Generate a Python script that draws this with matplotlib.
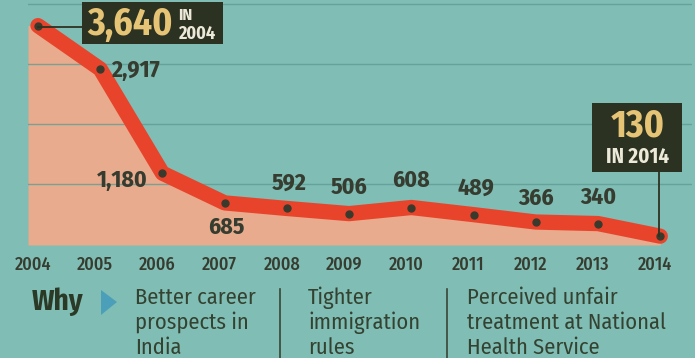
import matplotlib
matplotlib.use("Agg")
import matplotlib.pyplot as plt
import matplotlib.transforms as mtransforms
from matplotlib.patches import Rectangle, Polygon
from matplotlib.lines import Line2D

# ---- data ----
years = [2004, 2005, 2006, 2007, 2008, 2009, 2010, 2011, 2012, 2013, 2014]
counts = [3640, 2917, 1180, 685, 592, 506, 608, 489, 366, 340, 130]
reasons = [
    ["Better career", "prospects in", "India"],
    ["Tighter", "immigration", "rules"],
    ["Perceived unfair", "treatment at National", "Health Service"],
]
why_label = "Why"

# ---- style ----
BG = "#80bdb4"
FILL = "#e8ab8d"
RED = "#e8442c"
DOT = "#3a3a2c"
TXT = "#363c30"
BOX = "#2c3222"
GOLD = "#e6c476"
WHITE = "#ece9d8"
COND = ["Fira Sans Condensed", "Asap Condensed", "DejaVu Sans"]

W, H = 695, 358
fig = plt.figure(figsize=(W / 100, H / 100), dpi=100, facecolor=BG)
ax = fig.add_axes([28 / W, (H - 245) / H, (692 - 28) / W, 245 / H])
ax.set_facecolor(BG)
ax.set_xlim(2003.84, 2014.51)
ymin = -17
ax.set_ylim(ymin, 4067)
for s in ax.spines.values():
    s.set_visible(False)

ax.set_yticks([1000, 2000, 3000, 4000])
ax.tick_params(axis="y", length=0, labelleft=False)
ax.set_axisbelow(False)
ax.yaxis.grid(True, color="#5f9c95", lw=1.0, alpha=0.8)

# fill under the line
fx = [ax.get_xlim()[0]] + years
fy = [counts[0]] + counts
ax.fill_between(fx, fy, ymin, color=FILL, lw=0, zorder=1)

# line + dots
ax.plot(years, counts, color=RED, lw=11, solid_capstyle="round",
        solid_joinstyle="round", zorder=3)
ax.plot(years, counts, "o", ms=5, color=DOT, zorder=4)

# x tick labels
ax.set_xticks(years)
ax.set_xticklabels([str(y) for y in years], fontsize=13, color=TXT,
                   family=COND, fontweight="medium")
ax.tick_params(axis="x", length=0, pad=8)
shift = mtransforms.ScaledTranslation(-5 / 100, 0, fig.dpi_scale_trans)
for lab in ax.get_xticklabels():
    lab.set_transform(lab.get_transform() + shift)

# data labels (offset in pixels from point)
offsets = {
    2005: (11, -1, "left"),
    2006: (-15, -7, "right"),
    2007: (2, -24, "center"),
    2008: (2, 25, "center"),
    2009: (0, 26, "center"),
    2010: (0, 27, "center"),
    2011: (2, 27, "center"),
    2012: (0, 24, "center"),
    2013: (0, 26, "center"),
}
for yr, v in zip(years, counts):
    if yr in offsets:
        dx, dy, ha = offsets[yr]
        ax.annotate(f"{v:,}", xy=(yr, v), xytext=(dx, dy),
                    textcoords="offset pixels", ha=ha, va="center",
                    fontsize=17, fontweight="bold", color=TXT, family=COND,
                    zorder=5)

ident = mtransforms.IdentityTransform()


def disp(x, y):
    return ax.transData.transform((x, y))


# ---- callout box for first year ----
p1x, p1y = disp(years[0], counts[0])
fig.add_artist(Line2D([p1x, p1x + 45], [p1y - 1, p1y - 1], color=BOX,
                      lw=1.3, transform=ident, zorder=5))
fig.add_artist(Rectangle((p1x + 44, p1y - 18), 141, 42, facecolor=BOX,
                         edgecolor="none", transform=ident, zorder=6))
fig.text(p1x + 49, p1y + 1, f"{counts[0]:,}", transform=ident, ha="left",
         va="center", fontsize=27, fontweight="bold", color=GOLD, family=COND,
         zorder=7)
fig.text(p1x + 140, p1y + 10, "IN", transform=ident, ha="left", va="center",
         fontsize=12, fontweight="bold", color=WHITE, family=COND, zorder=7)
fig.text(p1x + 140, p1y - 8, str(years[0]), transform=ident, ha="left",
         va="center", fontsize=13, fontweight="bold", color=WHITE,
         family=COND, zorder=7)

# ---- callout box for last year ----
p2x, p2y = disp(years[-1], counts[-1])
fig.add_artist(Line2D([p2x - 1, p2x - 1], [p2y, p2y + 66], color=BOX,
                      lw=1.3, transform=ident, zorder=5))
fig.add_artist(Rectangle((p2x - 68, p2y + 64), 90, 69, facecolor=BOX,
                         edgecolor="none", transform=ident, zorder=6))
fig.text(p2x - 23, p2y + 110, f"{counts[-1]:,}", transform=ident,
         ha="center", va="center", fontsize=27, fontweight="bold",
         color=GOLD, family=COND, zorder=7)
fig.text(p2x - 23, p2y + 79, f"IN {years[-1]}", transform=ident,
         ha="center", va="center", fontsize=15, fontweight="bold",
         color=WHITE, family=COND, zorder=7)

# ---- "Why" section ----
fig.text(32 / W, 1 - 302 / H, why_label, ha="left", va="center",
         fontsize=21, fontweight="bold", color="#2b3a26", family=COND)
tri = Polygon([[101 / W, 1 - 290 / H], [117 / W, 1 - 302 / H],
               [101 / W, 1 - 315 / H]], closed=True,
              facecolor="#4c9fb9", edgecolor="none",
              transform=fig.transFigure)
fig.add_artist(tri)

col_x = [135, 308, 467]
base_y = [304, 329, 354]
for cx, lines in zip(col_x, reasons):
    for by, line in zip(base_y, lines):
        fig.text(cx / W, 1 - by / H, line, ha="left", va="baseline",
                 fontsize=16.2, color="#344231", family=COND)

for sx in [280, 447]:
    fig.add_artist(Line2D([sx / W, sx / W], [1 - 289 / H, 0],
                          color="#3a4535", lw=1.2,
                          transform=fig.transFigure))

fig.savefig("out.png", dpi=100, facecolor=BG)
